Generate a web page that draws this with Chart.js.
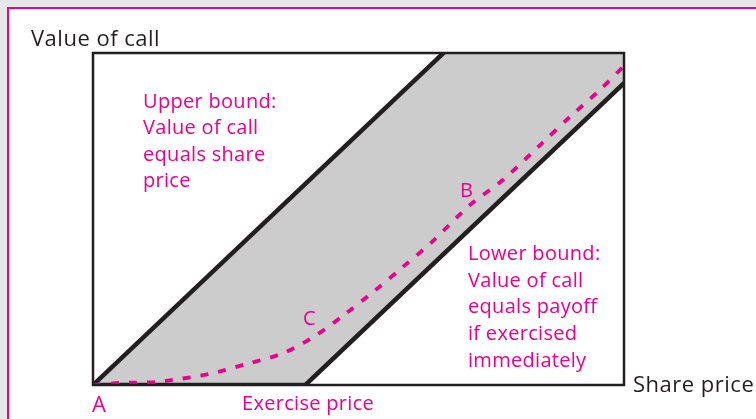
<!DOCTYPE html>
<html>
<head>
<meta charset="utf-8">
<script src="https://cdn.jsdelivr.net/npm/chart.js@4"></script>
<style>
  body { margin: 0; background: #e6e7e8; width: 756px; height: 419px; overflow: hidden; position: relative; }
  #sheet { position: absolute; left: 7px; top: 7px; width: 760px; height: 420px; background: #fff;
           border-top: 2.5px solid #ec008c; border-left: 2.5px solid #ec008c; }
  canvas { position: absolute; left: 0; top: 0; }
</style>
</head>
<body>
<div id="sheet"></div>
<canvas id="callChart" width="756" height="419"></canvas>
<script>
// share price on x, value of call on y (arbitrary units)
const exercisePrice = 40;
const upperX = [0, 70];
const upperY = [0, 70];
const lowerX = [0, exercisePrice, 110];
const lowerY = [0, 0, 70];
const bandX = [0, 66, 100, 100, exercisePrice, 0];
const bandY = [0, 66, 66, 60, 0, 0];
const callX = [0, 5, 12, 15, 22, 29, 36, 42, 47.5, 53, 58.4, 63.8, 71, 77, 84.6, 89.8, 95.1, 99.8];
const callY = [0, 0.4, 0.6, 1.0, 2.2, 4.2, 6.4, 9.9, 14.1, 18.7, 23.5, 28.4, 35.8, 40.6, 48.1, 53.3, 58.3, 63.2];

const ink = "#231f20";
const pink = "#ec008c";
const font = "'Open Sans'";

function pts(xs, ys) {
    return xs.map((x, i) => ({ x: x, y: ys[i] }));
}

const textPlugin = {
    id: "texts",
    afterDatasetsDraw(chart) {
        const ctx = chart.ctx;
        const a = chart.chartArea;
        ctx.save();
        ctx.strokeStyle = ink;
        ctx.lineWidth = 2.5;
        ctx.strokeRect(a.left, a.top, a.right - a.left, a.bottom - a.top);

        ctx.textBaseline = "alphabetic";
        ctx.textAlign = "left";
        ctx.fillStyle = ink;
        ctx.font = "22px " + font;
        ctx.letterSpacing = "0.5px";
        ctx.fillText("Value of call", 31, 46);
        ctx.fillText("Share price", 633, 392);

        ctx.fillStyle = pink;
        ctx.fillText("A", 92, 412);

        ctx.font = "20px " + font;
        ctx.letterSpacing = "0.3px";
        ctx.fillText("Exercise price", 242, 410);
        ["Upper bound:", "Value of call", "equals share", "price"].forEach((t, i) => {
            ctx.fillText(t, 143, 108 + i * 26.4);
        });
        ["Lower bound:", "Value of call", "equals payoff", "if exercised", "immediately"].forEach((t, i) => {
            ctx.fillText(t, 468, 260 + i * 26.7);
        });
        ctx.fillText("B", 460, 197);
        ctx.fillText("C", 303, 325);
        ctx.restore();
    }
};

new Chart(document.getElementById("callChart").getContext("2d"), {
    type: "scatter",
    data: {
        datasets: [
            {
                data: pts(callX, callY),
                showLine: true,
                borderColor: pink,
                borderWidth: 3.8,
                borderDash: [8, 10],
                tension: 0.3,
                pointRadius: 0,
                order: 1
            },
            {
                data: pts(upperX, upperY),
                showLine: true,
                borderColor: ink,
                borderWidth: 4.5,
                pointRadius: 0,
                clip: 0,
                order: 2
            },
            {
                data: pts(lowerX, lowerY),
                showLine: true,
                borderColor: ink,
                borderWidth: 4.5,
                pointRadius: 0,
                clip: 0,
                order: 2
            },
            {
                data: pts(bandX, bandY),
                showLine: true,
                borderWidth: 0,
                borderColor: "rgba(0,0,0,0)",
                backgroundColor: "#cccccc",
                fill: "shape",
                pointRadius: 0,
                order: 3
            }
        ]
    },
    options: {
        responsive: false,
        animation: false,
        layout: { padding: { left: 93, right: 132, top: 53, bottom: 34 } },
        scales: {
            x: { type: "linear", min: 0, max: 100, display: false },
            y: { type: "linear", min: 0, max: 66, display: false }
        },
        plugins: {
            legend: { display: false },
            tooltip: { enabled: false }
        }
    },
    plugins: [textPlugin]
});
</script>
</body>
</html>
